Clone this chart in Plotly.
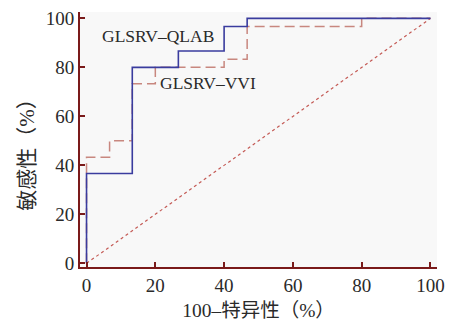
import plotly.graph_objects as go

# ROC step curves (100 - specificity, sensitivity), in percent
qlab_fpr = [0, 0, 13.3, 13.3, 26.7, 26.7, 40.0, 40.0, 46.7, 46.7, 100]
qlab_tpr = [0, 36.7, 36.7, 80.0, 80.0, 86.7, 86.7, 96.7, 96.7, 100, 100]

vvi_fpr = [0, 0, 6.7, 6.7, 13.3, 13.3, 20.0, 20.0, 40.0, 40.0, 46.7, 46.7, 80.0, 80.0, 100]
vvi_tpr = [0, 43.3, 43.3, 50.0, 50.0, 73.3, 73.3, 80.0, 80.0, 83.3, 83.3, 96.7, 96.7, 100, 100]

ref_line = [0, 100]
tick_vals = [0, 20, 40, 60, 80, 100]

axis_color = "#7a1a1a"
text_color = "#2a2a2a"
serif = "Liberation Serif, Times New Roman, Noto Sans CJK SC, serif"

fig = go.Figure()
fig.add_trace(go.Scatter(x=ref_line, y=ref_line, mode="lines",
                         line=dict(color="#c45a55", width=1.2, dash="dot"),
                         showlegend=False))
fig.add_trace(go.Scatter(x=vvi_fpr, y=vvi_tpr, mode="lines",
                         line=dict(color="#c8877f", width=1.5, dash="10px,5px"),
                         showlegend=False))
fig.add_trace(go.Scatter(x=qlab_fpr, y=qlab_tpr, mode="lines",
                         line=dict(color="#3a3c9e", width=1.6),
                         showlegend=False))

fig.add_annotation(x=20.8, y=93.0, text="GLSRV–QLAB", showarrow=False,
                   font=dict(family=serif, size=17.5, color=text_color))
fig.add_annotation(x=35.3, y=73.6, text="GLSRV–VVI", showarrow=False,
                   font=dict(family=serif, size=17.5, color=text_color))

# y-axis title placed as rotated text beside the tick labels
fig.add_annotation(xref="paper", yref="paper", x=-0.148, y=0.46,
                   xanchor="center", yanchor="middle", textangle=-90,
                   text="敏感性（%）", showarrow=False,
                   font=dict(family=serif, size=21, color=text_color))

axis_common = dict(
    tickvals=tick_vals,
    showgrid=False, zeroline=False, automargin=False,
    showline=True, linecolor=axis_color, linewidth=2,
    ticks="inside", ticklen=5, tickwidth=2, tickcolor=axis_color,
    tickfont=dict(family=serif, size=19, color=text_color),
)

fig.update_xaxes(range=[-1.9, 101.9], title=dict(text="100–特异性（%）",
                 font=dict(family=serif, size=19.5, color=text_color)), **axis_common)
fig.update_yaxes(range=[-1.5, 102.6], **axis_common)

fig.update_layout(
    width=454, height=321,
    margin=dict(l=80, r=17, t=12, b=54),
    paper_bgcolor="white", plot_bgcolor="#f8f8f8",
)

fig.write_html("out.html")
